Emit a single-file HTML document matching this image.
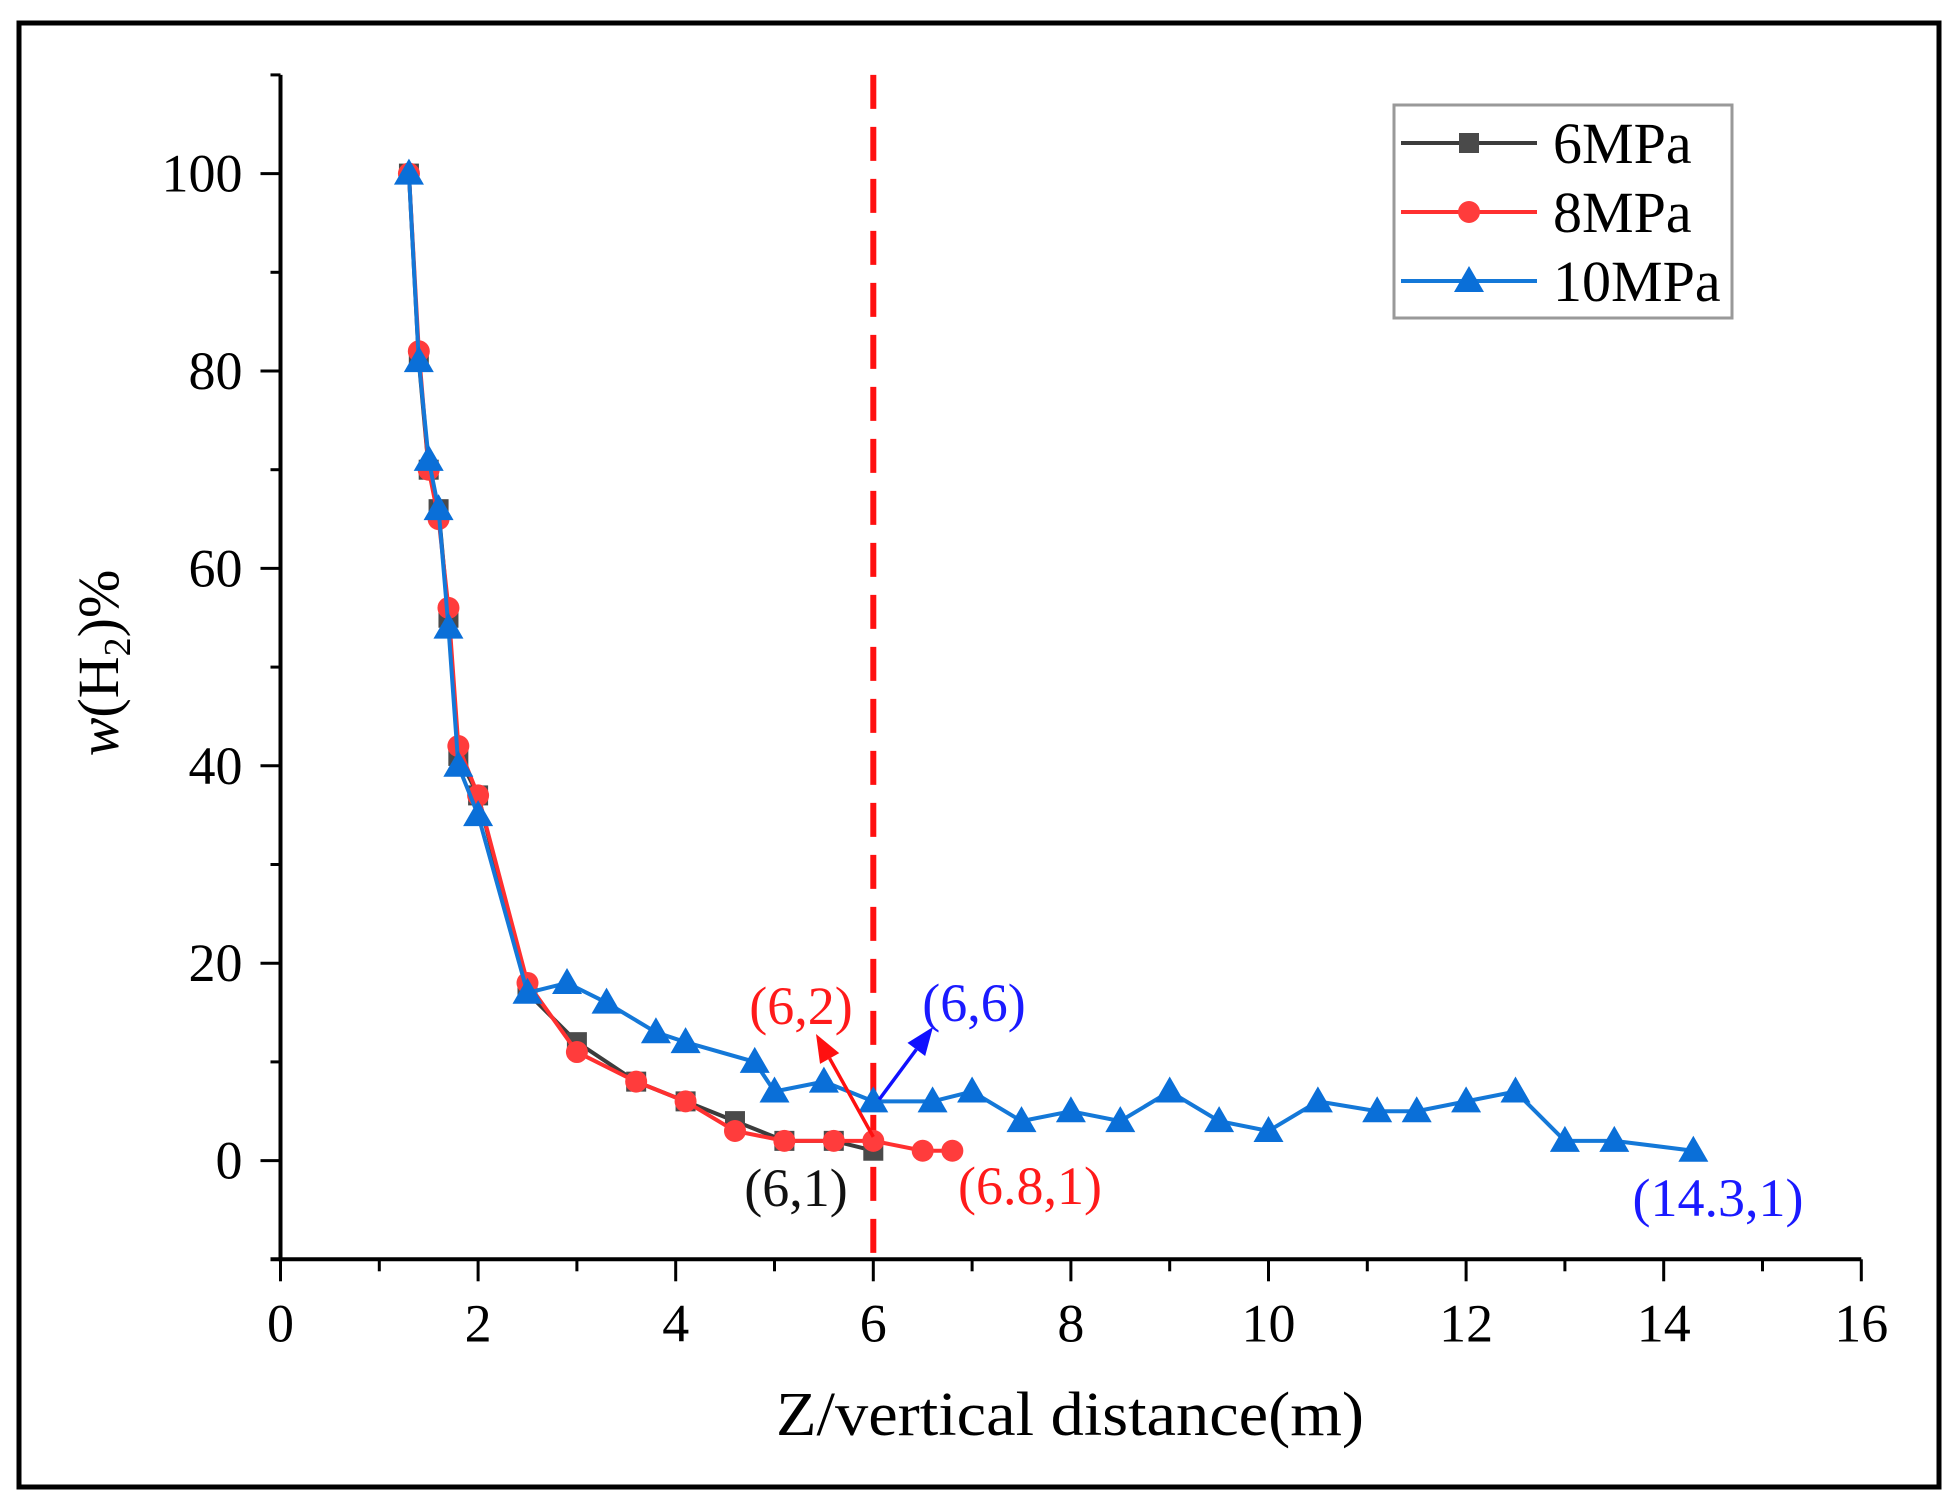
<!DOCTYPE html>
<html><head><meta charset="utf-8">
<style>
html,body{margin:0;padding:0;background:#fff;}
svg{display:block;font-family:"Liberation Serif",serif;}
</style></head>
<body>
<svg id="chart" width="1957" height="1503" viewBox="0 0 1957 1503" xmlns="http://www.w3.org/2000/svg">
<rect x="19" y="23" width="1920" height="1464" fill="#fff" stroke="#000" stroke-width="5"/>
<g id="axes"></g>
<g id="marks"></g>
<g id="legend">
<rect x="1394" y="105" width="338" height="213" fill="#fff" stroke="#999" stroke-width="3"/>
</g>
<text x="118" y="663" font-size="58" text-anchor="middle" transform="rotate(-90 118 663)"><tspan font-style="italic">w</tspan>(H<tspan font-size="38" dy="12">2</tspan><tspan dy="-12">)%</tspan></text>
<text x="1070" y="1435" font-size="62" text-anchor="middle" textLength="588" lengthAdjust="spacingAndGlyphs">Z/vertical distance(m)</text>
<text x="801" y="1024" font-size="54" fill="#ff1a1a" text-anchor="middle">(6,2)</text>
<text x="974" y="1021" font-size="54" fill="#1a1aff" text-anchor="middle">(6,6)</text>
<text x="796" y="1206" font-size="54" fill="#111" text-anchor="middle">(6,1)</text>
<text x="1030" y="1204" font-size="54" fill="#ff1a1a" text-anchor="middle">(6.8,1)</text>
<text x="1718" y="1216" font-size="54" fill="#1a1aff" text-anchor="middle">(14.3,1)</text>
</svg>
<script>
const xs6 = [1.3,1.4,1.5,1.6,1.7,1.8,2,2.5,3,3.6,4.1,4.6,5.1,5.6,6];
const ys6 = [100,81,70,66,55,41,37,17,12,8,6,4,2,2,1];
const xs8 = [1.3,1.4,1.5,1.6,1.7,1.8,2,2.5,3,3.6,4.1,4.6,5.1,5.6,6,6.5,6.8];
const ys8 = [100,82,70,65,56,42,37,18,11,8,6,3,2,2,2,1,1];
const xs10 = [1.3,1.4,1.5,1.6,1.7,1.8,2,2.5,2.9,3.3,3.8,4.1,4.8,5,5.5,6,6.6,7,7.5,8,8.5,9,9.5,10,10.5,11.1,11.5,12,12.5,13,13.5,14.3];
const ys10 = [100,81,71,66,54,40,35,17,18,16,13,12,10,7,8,6,6,7,4,5,4,7,4,3,6,5,5,6,7,2,2,1];
const xTicks = [0,2,4,6,8,10,12,14,16];
const yTicks = [0,20,40,60,80,100];
const seriesNames = ["6MPa","8MPa","10MPa"];
const markerX = 6;

const NS="http://www.w3.org/2000/svg";
const X0=280.5, XU=98.8, Y0=1160.6, YU=9.87;
const sx=v=>X0+XU*v, sy=v=>Y0-YU*v;
const yBot=sy(-10), yTop=sy(110), xL=sx(0), xR=sx(16);
function mk(tag,attrs,parent){const e=document.createElementNS(NS,tag);for(const k in attrs)e.setAttribute(k,attrs[k]);parent.appendChild(e);return e;}
const axes=document.getElementById('axes'), marks=document.getElementById('marks'), legend=document.getElementById('legend');

let e=mk('line',{x1:xL,y1:yTop,x2:xL,y2:yBot+2,stroke:'#000','stroke-width':4},axes);


e=mk('line',{x1:xL-10,y1:yBot,x2:xR,y2:yBot,stroke:'#000','stroke-width':4},axes);


for(let v=0;v<=16;v++){
  const major=v%2===0;
  e=mk('line',{x1:sx(v),y1:yBot,x2:sx(v),y2:yBot+(major?22:12),stroke:'#000','stroke-width':3},axes);
  
  
}
xTicks.forEach(v=>{
  e=mk('text',{x:sx(v),y:yBot+82,'font-size':54,'text-anchor':'middle'},axes);
  e.textContent=v;
  
  
});
for(let v=-10;v<=110;v+=10){
  const major=v%20===0;
  e=mk('line',{x1:xL,y1:sy(v),x2:xL-(major?20:10),y2:sy(v),stroke:'#000','stroke-width':3},axes);
  
  
}
yTicks.forEach(v=>{
  e=mk('text',{x:xL-38,y:sy(v)+18,'font-size':54,'text-anchor':'end'},axes);
  e.textContent=v;
  
  
});

e=mk('line',{x1:sx(markerX),y1:yTop,x2:sx(markerX),y2:yBot,stroke:'#ff1010','stroke-width':6,'stroke-dasharray':'34 18'},marks);



function marker(type,x,y,color,parent){
  let m;
  if(type==='sq') m=mk('rect',{x:x-10,y:y-10,width:20,height:20,fill:color},parent);
  else if(type==='ci') m=mk('circle',{cx:x,cy:y,r:11,fill:color},parent);
  else m=mk('polygon',{points:`${x},${y-15} ${x-15},${y+11} ${x+15},${y+11}`,fill:color},parent);
  return m;
}
const defs=[[xs6,ys6,'#3c3c3c','#4a4a4a','sq'],[xs8,ys8,'#ff3030','#ff3c3c','ci'],[xs10,ys10,'#1478d8','#0a6fd8','tr']];
defs.forEach((d,i)=>{
  const g=mk('g',{},marks);
  
  
  const pts=d[0].map((x,j)=>sx(x)+','+sy(d[1][j])).join(' ');
  const pl=mk('polyline',{points:pts,fill:'none',stroke:d[2],'stroke-width':4},g);
  
  
  d[0].forEach((x,j)=>{
    const m=marker(d[4],sx(x),sy(d[1][j]),d[3],g);
    
    
  });
  const ly=143+i*69;
  const ll=mk('line',{x1:1401,y1:ly,x2:1537,y2:ly,stroke:d[2],'stroke-width':4},legend);
  
  
  const lm=marker(d[4],1469,ly,d[3],legend);
  
  
  const lt=mk('text',{x:1553,y:ly+20,'font-size':58},legend);
  lt.textContent=seriesNames[i];
  
  
});

function arrow(x1,y1,x2,y2,color,name){
  const g=mk('g',{},marks);
  
  
  const a=Math.atan2(y2-y1,x2-x1), L=28, W=11;
  const bx=x2-L*Math.cos(a), by=y2-L*Math.sin(a);
  mk('line',{x1:x1,y1:y1,x2:bx,y2:by,stroke:color,'stroke-width':3.5},g);
  mk('polygon',{points:`${x2},${y2} ${bx+W*Math.sin(a)},${by-W*Math.cos(a)} ${bx-W*Math.sin(a)},${by+W*Math.cos(a)}`,fill:color},g);
}
arrow(sx(6),sy(2)-4,816,1034,'#ff1010','arrow-6-2');
arrow(sx(6)+6,sy(6)-2,933,1027,'#1010ff','arrow-6-6');
</script>
</body></html>
